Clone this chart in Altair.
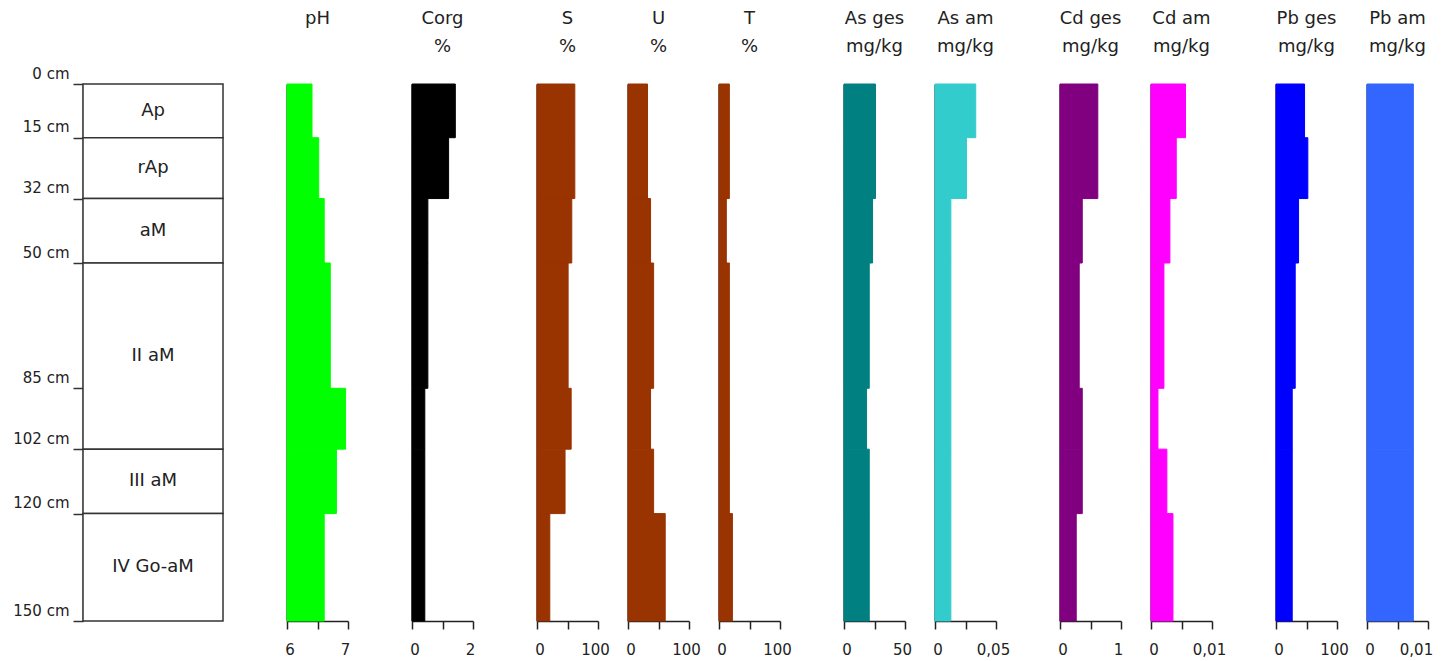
import altair as alt
import pandas as pd

# ---- data -------------------------------------------------------------
depth_top = [0, 15, 32, 50, 85, 102, 120]
depth_bottom = [15, 32, 50, 85, 102, 120, 150]

ph = [6.41, 6.52, 6.61, 6.71, 6.96, 6.81, 6.61]
corg = [1.42, 1.20, 0.52, 0.52, 0.42, 0.42, 0.42]
sand = [62, 62, 57, 51, 56, 46, 21]
silt = [32, 32, 37, 42, 37, 42, 61]
clay = [17, 17, 12, 17, 17, 17, 22]
as_ges = [25.8, 25.8, 23.4, 20.7, 18.5, 20.7, 20.7]
as_am = [0.0334, 0.0258, 0.013, 0.013, 0.013, 0.013, 0.013]
cd_ges = [0.62, 0.62, 0.365, 0.315, 0.365, 0.365, 0.266]
cd_am = [0.00566, 0.00414, 0.0031, 0.00212, 0.00114, 0.0026, 0.0036]
pb_ges = [46.8, 52.2, 37.0, 31.5, 26.6, 26.6, 26.6]
pb_am = [0.0076, 0.0076, 0.0076, 0.0076, 0.0076, 0.0076, 0.0076]

horizon_names = ["Ap", "rAp", "aM", "II aM", "III aM", "IV Go-aM"]
horizon_top = [0, 15, 32, 50, 102, 120]
horizon_bottom = [15, 32, 50, 102, 120, 150]
depth_ticks = [0, 15, 32, 50, 85, 102, 120, 150]

FONT = "DejaVu Sans"
INK = "#222222"
PANEL_W = 61
PANEL_H = 537

y_scale = alt.Scale(domain=[0, 150], reverse=True, nice=False, zero=False)


def title_params(lines):
    return alt.TitleParams(
        text=lines, font=FONT, fontSize=18, fontWeight="normal", color=INK,
        lineHeight=28, anchor="middle", frame="group", offset=28,
    )


def panel(values, title, lo, mid, hi, lo_lab, hi_lab, color, hi_off=-3):
    df = pd.DataFrame({
        "top": depth_top, "bottom": depth_bottom, "value": values,
        "base": [lo] * len(values),
    })
    label_expr = (
        f"datum.value == {lo} ? '{lo_lab}' : (datum.value == {hi} ? '{hi_lab}' : '')"
    )
    return (
        alt.Chart(df, title=title_params(title))
        .mark_rect(color=color, stroke=color, strokeWidth=1)
        .encode(
            x=alt.X(
                "base:Q",
                scale=alt.Scale(domain=[lo, hi], nice=False, zero=False),
                axis=alt.Axis(
                    values=[lo, mid, hi], labelExpr=label_expr, title=None,
                    grid=False, tickSize=8, labelPadding=13, labelFlush=False,
                    labelOffset={
                        "condition": {"test": f"datum.value == {lo}", "value": 2.5},
                        "value": hi_off,
                    },
                    labelOverlap=False, labelFont=FONT, labelFontSize=15,
                    labelColor=INK, domainColor=INK, tickColor=INK,
                    domainWidth=1.5, tickWidth=1.5,
                ),
            ),
            x2="value:Q",
            y=alt.Y(
                "top:Q", scale=y_scale,
                axis=alt.Axis(
                    ticks=False, labels=False, title=None, grid=False,
                    domainColor="#000000", domainWidth=2,
                ),
            ),
            y2="bottom:Q",
        )
        .properties(width=PANEL_W, height=PANEL_H)
    )


def spacer():
    return (
        alt.Chart(pd.DataFrame({"a": [0]}))
        .mark_point(opacity=0)
        .encode(x=alt.X("a:Q", axis=None), y=alt.Y("a:Q", axis=None))
        .properties(width=4, height=PANEL_H)
    )


hdf = pd.DataFrame({
    "name": horizon_names, "top": horizon_top, "bottom": horizon_bottom,
})

hx = alt.Scale(domain=[0, 1], nice=False, zero=False)
h_base = alt.Chart(hdf)
h_rect = h_base.mark_rect(fill="white", stroke="#333333", strokeWidth=1.5).encode(
    x=alt.X("x0:Q", scale=hx, axis=None),
    x2="x1:Q",
    y=alt.Y(
        "top:Q", scale=y_scale,
        axis=alt.Axis(
            values=depth_ticks, labelExpr="datum.value + ' cm'", title=None,
            grid=False, tickSize=10, labelPadding=4, labelBaseline="alphabetic",
            labelOffset=-6, labelOverlap=False, labelFont=FONT, labelFontSize=15,
            labelColor=INK, domainColor="#333333", tickColor="#333333",
            domainWidth=1.5, tickWidth=1.5,
        ),
    ),
    y2="bottom:Q",
).transform_calculate(x0="0", x1="1")
h_text = h_base.mark_text(font=FONT, fontSize=18, color=INK).encode(
    x=alt.X("xm:Q", scale=hx, axis=None),
    y=alt.Y("mid:Q", scale=y_scale),
    text="name:N",
).transform_calculate(xm="0.5", mid="(datum.top + datum.bottom) / 2")
horizon = alt.layer(h_rect, h_text).properties(width=140, height=PANEL_H)

p_ph = panel(ph, ["pH", " "], 6, 6.5, 7, "6", "7", "#00FF00")
p_corg = panel(corg, ["Corg", "%"], 0, 1, 2, "0", "2", "#000000")
p_s = panel(sand, ["S", "%"], 0, 50, 100, "0", "100", "#993300")
p_u = panel(silt, ["U", "%"], 0, 50, 100, "0", "100", "#993300")
p_t = panel(clay, ["T", "%"], 0, 50, 100, "0", "100", "#993300")
p_asg = panel(as_ges, ["As ges", "mg/kg"], 0, 25, 50, "0", "50", "#008080")
p_asa = panel(as_am, ["As am", "mg/kg"], 0, 0.025, 0.05, "0", "0,05", "#33CCCC")
p_cdg = panel(cd_ges, ["Cd ges", "mg/kg"], 0, 0.5, 1, "0", "1", "#800080")
p_cda = panel(cd_am, ["Cd am", "mg/kg"], 0, 0.005, 0.01, "0", "0,01", "#FF00FF")
p_pbg = panel(pb_ges, ["Pb ges", "mg/kg"], 0, 50, 100, "0", "100", "#0000FF")
p_pba = panel(pb_am, ["Pb am", "mg/kg"], 0, 0.005, 0.01, "0", "0,01", "#3366FF",
              hi_off=-12)

chart = (
    alt.hconcat(
        horizon, spacer(), p_ph, spacer(), p_corg, spacer(),
        p_s, p_u, p_t, spacer(),
        p_asg, p_asa, spacer(),
        p_cdg, p_cda, spacer(),
        p_pbg, p_pba,
        spacing=30, bounds="flush",
    )
    .properties(
        padding={"left": 4, "top": 1, "right": 0, "bottom": 0},
        background="white",
    )
    .configure_view(stroke=None, strokeWidth=0)
)

chart.save("out.html", embed_options={"renderer": "svg", "actions": False})
